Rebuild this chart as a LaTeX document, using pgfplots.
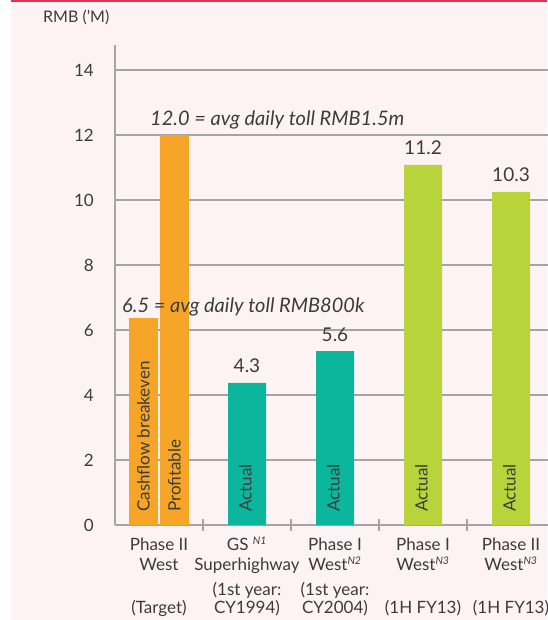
\documentclass[border=0pt]{standalone}
\usepackage{pgfplots}
\pgfplotsset{compat=1.18}
\usepackage{fontspec}
\setmainfont{Lato}
\definecolor{bg}{HTML}{FDF3F4}
\definecolor{redline}{HTML}{E8304A}
\definecolor{gridgray}{HTML}{A5A5A5}
\definecolor{txt}{HTML}{3C3C3C}
\definecolor{orangebar}{HTML}{F6A529}
\definecolor{tealbar}{HTML}{0BB69C}
\definecolor{greenbar}{HTML}{B9D33B}
\newcommand{\nsup}[1]{\smash{\textsuperscript{\itshape\fontsize{10.5}{10}\selectfont #1}}}
\begin{document}
\begin{tikzpicture}[x=1pt,y=1pt]
% page background (1pt = 1px of the reference, origin at data (0,0))
\fill[white] (-159,-95) rectangle (388,525);
\fill[bg] (-148,-95) rectangle (388,523);
\fill[redline] (-148,523) rectangle (388,525);
\node[anchor=west, inner sep=0pt, txt, font=\fontsize{16}{18}\selectfont] at (-116,508) {RMB (’M)};
\begin{axis}[
  at={(0,0)}, anchor=origin,
  x=88pt, y=32.5pt,
  xmin=-0.5, xmax=4.6, ymin=0, ymax=14.77,
  clip=false,
  axis x line*=bottom, axis y line*=left,
  axis line style={gridgray, line width=1.2pt},
  ymajorgrids, major grid style={gridgray, line width=1.2pt},
  ytick={0,2,...,14},
  ytick style={draw=none},
  yticklabel style={inner sep=0pt, xshift=-21pt, txt, font=\fontsize{17}{19}\selectfont},
  /pgf/number format/assume math mode=true,
  xtick={0,1,2,3,4},
  minor xtick={0.5,1.5,2.5,3.5},
  major x tick style={draw=none},
  minor x tick style={draw=gridgray, line width=1.2pt},
  minor tick length=13pt,
  xtick align=center,
  xticklabels={
    {Phase II\\West\\[5pt]\mbox{}\\[-2pt](Target)},
    {GS \nsup{N1}\\Superhighway\\[5pt](1st year:\\[-2pt]CY1994)},
    {Phase I\\West\nsup{N2}\\[5pt](1st year:\\[-2pt]CY2004)},
    {Phase I\\West\nsup{N3}\\[5pt]\mbox{}\\[-2pt](1H FY13)},
    {Phase II\\West\nsup{N3}\\[5pt]\mbox{}\\[-2pt](1H FY13)}},
  xticklabel style={align=center, anchor=north, inner sep=0pt, yshift=-11pt,
    txt, font=\fontsize{17}{20}\selectfont},
  nodes near coords={\pgfplotspointmeta},
  point meta=explicit symbolic,
  every node near coord/.append style={anchor=base, yshift=10pt, inner sep=0pt,
    txt, font=\fontsize{19}{20}\selectfont},
]
% Phase II West target bars (cashflow breakeven, profitable)
\addplot[ybar, bar width=29pt, bar shift=-15.5pt, fill=orangebar, draw=none,
  nodes near coords={}] coordinates {(0,6.37) []};
\addplot[ybar, bar width=29pt, bar shift=15.5pt, fill=orangebar, draw=none,
  nodes near coords={}] coordinates {(0,12.0) []};
% actuals
\addplot[ybar, bar width=38pt, bar shift=0pt, fill=tealbar, draw=none]
  coordinates {(1,4.37) [4.3] (2,5.35) [5.6]};
\addplot[ybar, bar width=38pt, bar shift=0pt, fill=greenbar, draw=none]
  coordinates {(3,11.08) [11.2] (4,10.25) [10.3]};

\begin{scope}[every node/.style={rotate=90, anchor=west, inner sep=0pt, txt,
    font=\fontsize{17}{19}\selectfont}]
\node at ([xshift=-15.5pt, yshift=13pt]axis cs:0,0) {Cashflow breakeven};
\node at ([xshift=15.5pt, yshift=13pt]axis cs:0,0) {Profitable};
\node at ([xshift=-1.5pt, yshift=13pt]axis cs:1,0) {Actual};
\node at ([xshift=-1.5pt, yshift=13pt]axis cs:2,0) {Actual};
\node at ([xshift=-1.5pt, yshift=13pt]axis cs:3,0) {Actual};
\node at ([xshift=-1.5pt, yshift=13pt]axis cs:4,0) {Actual};
\end{scope}
\node[anchor=base west, inner sep=0pt, txt, font=\itshape\fontsize{20}{22}\selectfont]
  at (axis cs:-0.102,12.28) {12.0 = avg daily toll RMB1.5m};
\node[anchor=base west, inner sep=0pt, txt, font=\itshape\fontsize{20}{22}\selectfont]
  at (axis cs:-0.42,6.55) {6.5 = avg daily toll RMB800k};
\end{axis}
\pgfresetboundingbox
\useasboundingbox (-159,-95) rectangle (388,525);
\end{tikzpicture}
\end{document}
